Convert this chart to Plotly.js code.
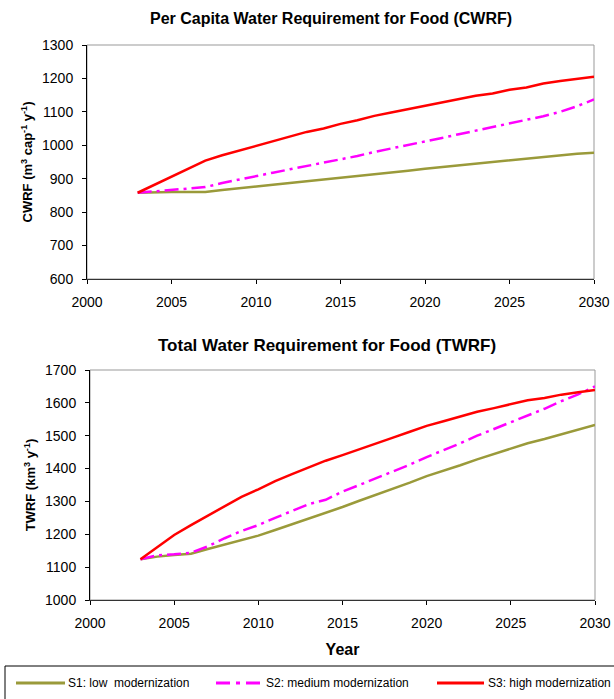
<!DOCTYPE html>
<html>
<head>
<meta charset="utf-8">
<script src="https://cdn.plot.ly/plotly-3.0.1.min.js"></script>
<style>html,body{margin:0;padding:0;background:#fff;}#chart{width:614px;height:699px;}</style>
</head>
<body>
<div id="chart"></div>
<script>
var years = [2003,2004,2005,2006,2007,2008,2009,2010,2011,2012,2013,2014,2015,2016,2017,2018,2019,2020,2021,2022,2023,2024,2025,2026,2027,2028,2029,2030];

var cwrfS1 = [858,860,860,860,860,866,872,877,882,887,892,897,902,908,913,919,924,930,935,940,945,950,955,960,965,971,975,978];
var cwrfS2 = [858,862,865,870,875,887,898,908,918,928,938,946,958,968,980,990,1000,1010,1022,1033,1044,1055,1065,1075,1087,1100,1117,1137];
var cwrfS3 = [858,882,906,930,954,970,984,998,1011,1025,1040,1050,1064,1075,1088,1098,1108,1118,1128,1138,1148,1155,1166,1173,1185,1192,1198,1205];

var twrfS1 = [1124,1132,1137,1141,1155,1168,1183,1196,1213,1230,1248,1265,1283,1302,1320,1338,1357,1377,1393,1410,1428,1445,1462,1477,1490,1505,1518,1533];
var twrfS2 = [1124,1136,1139,1144,1163,1188,1210,1228,1250,1272,1292,1305,1330,1350,1370,1390,1412,1435,1455,1477,1500,1520,1540,1560,1582,1605,1626,1650];
var twrfS3 = [1124,1162,1198,1228,1257,1286,1314,1337,1362,1383,1404,1424,1441,1458,1475,1494,1512,1530,1544,1558,1573,1584,1597,1608,1615,1625,1632,1639];

var seriesNames = ['S1: low  modernization', 'S2: medium modernization', 'S3: high modernization'];
var seriesColors = ['#9a9a3a', '#ff00ff', '#ff0000'];
var seriesDash = ['solid', '14px,5px,3px,5px', 'solid'];

var W = 614, H = 699;
function px(x){ return x / W; }
function py(y){ return 1 - y / H; }

var traces = [];
var cwrfSeries = [cwrfS1, cwrfS2, cwrfS3];
var twrfSeries = [twrfS1, twrfS2, twrfS3];
for (var i = 0; i < 3; i++) {
  traces.push({x: years, y: cwrfSeries[i], type: 'scatter', mode: 'lines', name: seriesNames[i],
    line: {color: seriesColors[i], width: 2.5, dash: seriesDash[i]}, xaxis: 'x', yaxis: 'y', showlegend: false});
}
for (var j = 0; j < 3; j++) {
  traces.push({x: years, y: twrfSeries[j], type: 'scatter', mode: 'lines', name: seriesNames[j],
    line: {color: seriesColors[j], width: 2.5, dash: seriesDash[j]}, xaxis: 'x2', yaxis: 'y2', showlegend: false});
}

var FONT = 'Liberation Sans, Arial, sans-serif';
function xax(dom, anchor, title) {
  var a = {domain: dom, anchor: anchor, range: [2000, 2030], tick0: 2000, dtick: 5,
    ticks: 'outside', ticklen: 4, tickcolor: '#000', tickwidth: 1,
    showline: true, linecolor: '#333', linewidth: 1, showgrid: false, zeroline: false,
    tickfont: {family: FONT, size: 14, color: '#000'}, ticklabelstandoff: 6, fixedrange: true};
  if (title) a.title = {text: title, font: {family: FONT, size: 16, color: '#000'}, standoff: 14};
  return a;
}
function yax(dom, anchor, rng, title) {
  return {domain: dom, anchor: anchor, range: rng, dtick: 100,
    ticks: 'outside', ticklen: 4, tickcolor: '#000', tickwidth: 1,
    showline: true, linecolor: '#000', linewidth: 1, showgrid: false, zeroline: false,
    tickfont: {family: FONT, size: 14, color: '#000'}, ticklabelstandoff: 6, fixedrange: true,
    title: {text: title, font: {family: FONT, size: 13, color: '#000'}, standoff: 6}};
}

var shapes = [
  {type: 'rect', xref: 'x domain', yref: 'y domain', x0: 0, x1: 1, y0: 0, y1: 1, line: {color: '#999', width: 1}, layer: 'below'},
  {type: 'rect', xref: 'x2 domain', yref: 'y2 domain', x0: 0, x1: 1, y0: 0, y1: 1, line: {color: '#999', width: 1}, layer: 'below'},
  {type: 'rect', xref: 'paper', yref: 'paper', x0: px(5), x1: px(640), y0: py(720), y1: py(666), line: {color: '#000', width: 1}}
];
var legX = [[16, 65], [216, 263], [437, 484]];
var legTextX = [66, 264, 486];
var annotations = [
  {xref: 'paper', yref: 'paper', x: px(327), y: py(345), xanchor: 'center', yanchor: 'middle', showarrow: false,
   text: '<b>Total Water Requirement for Food (TWRF)</b>', font: {family: FONT, size: 17, color: '#000'}}
];
for (var k = 0; k < 3; k++) {
  shapes.push({type: 'line', xref: 'paper', yref: 'paper', x0: px(legX[k][0]), x1: px(legX[k][1]), y0: py(683), y1: py(683),
    line: {color: seriesColors[k], width: 3, dash: k === 1 ? '14px,6px,4px,6px' : 'solid'}});
  annotations.push({xref: 'paper', yref: 'paper', x: px(legTextX[k]), y: py(683), xanchor: 'left', yanchor: 'middle',
    showarrow: false, text: seriesNames[k].replace('  ', '&nbsp; '), font: {family: FONT, size: 12, color: '#000'}});
}

var layout = {
  width: W, height: H, margin: {l: 0, r: 0, t: 0, b: 0}, paper_bgcolor: '#fff', plot_bgcolor: '#fff',
  showlegend: false,
  title: {text: '<b>Per Capita Water Requirement for Food (CWRF)</b>', x: px(331), y: py(18), xanchor: 'center', yanchor: 'middle',
    xref: 'paper', yref: 'paper', font: {family: FONT, size: 16, color: '#000'}},
  xaxis: xax([px(87), px(594)], 'y'),
  yaxis: yax([py(279), py(45)], 'x', [600, 1300], '<b>CWRF (m<sup>3</sup> cap<sup>-1</sup> y<sup>-1</sup>)</b>'),
  xaxis2: xax([px(90), px(595)], 'y2', '<b>Year</b>'),
  yaxis2: yax([py(600), py(370)], 'x2', [1000, 1700], '<b>TWRF (km<sup>3</sup> y<sup>-1</sup>)</b>'),
  shapes: shapes,
  annotations: annotations
};

Plotly.newPlot('chart', traces, layout, {staticPlot: true, displayModeBar: false});
</script>
</body>
</html>
